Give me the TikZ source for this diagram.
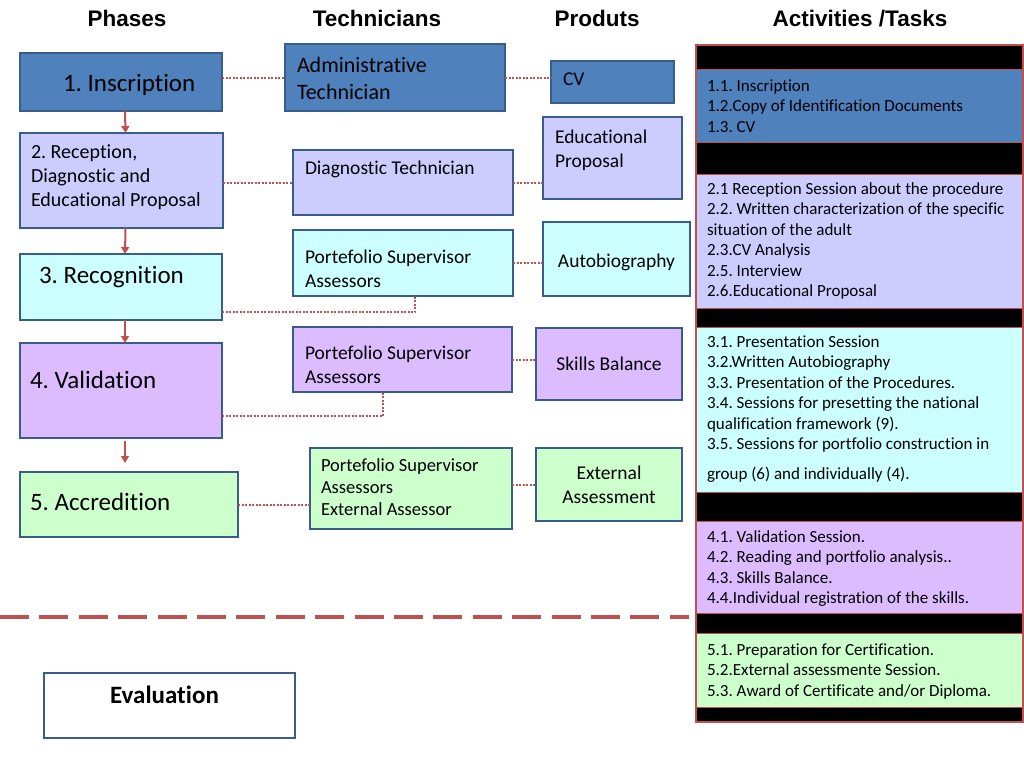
\documentclass[tikz,border=0pt]{standalone}
\usepackage{fontspec}
\setmainfont[Ligatures=NoCommon]{Carlito}
\newfontfamily\headfont{Liberation Sans}
\usepackage{xcolor}
\usepackage{tikz}
\usetikzlibrary{arrows.meta}
\usetikzlibrary{calc}

\definecolor{edgeblue}{HTML}{385D8A}
\definecolor{darkblue}{HTML}{4F81BD}
\definecolor{lavender}{HTML}{CCCCFF}
\definecolor{lightcyan}{HTML}{CCFFFF}
\definecolor{lilac}{HTML}{DDBBFF}
\definecolor{mint}{HTML}{CCFFCC}
\definecolor{linkred}{HTML}{C0504D}

\newcommand\setfs[2]{\fontsize{#1}{#2}\selectfont}
\frenchspacing

\begin{document}
\begin{tikzpicture}[
    x=1pt, y=-1pt,
    >={Triangle[length=7pt,width=8pt]},
    box/.style={rectangle, draw=edgeblue, line width=2.5pt, anchor=north west, outer sep=0pt, inner ysep=0pt, align=flush left},
    head/.style={anchor=base, font=\headfont\bfseries\setfs{22.5}{27}},
    task/.style={rectangle, draw=linkred, line width=1pt, anchor=north west, outer sep=0pt, inner ysep=0pt, inner xsep=11pt, text width=305pt, align=flush left, font=\setfs{17}{20.5}},
    link/.style={draw=linkred, line width=2pt, dash pattern=on 2pt off 1.5pt},
    flow/.style={->, draw=linkred, line width=2pt},
    cut/.style={draw=linkred, line width=4pt, dash pattern=on 29pt off 10.4pt}
]
\useasboundingbox (0,0) rectangle (1024,768);

% column titles
\node[head] (0_1) at (127,27) {Phases};
\node[head] (0_2) at (377,27) {Technicians};
\node[head] (0_3) at (597,27) {Produts};
\node[head] (0_4) at (860,27) {Activities /Tasks};

% phases
\node[box, fill=darkblue, inner xsep=10pt, text width=182pt, text height=38pt, text depth=20pt, font=\setfs{25}{30}] (1_1) at (20,53) {\hspace*{33pt}1. Inscription};
\node[box, fill=lavender, inner xsep=11pt, text width=181pt, text height=25pt, text depth=70pt, font=\setfs{20}{24}] (2_1) at (20,133) {2. Reception,\\Diagnostic and\\Educational Proposal};
\node[box, fill=lightcyan, inner xsep=19pt, text width=164pt, text height=29pt, text depth=37pt, font=\setfs{25}{30}] (3_1) at (20,254) {3. Recognition};
\node[box, fill=lilac, inner xsep=10pt, text width=182pt, text height=45pt, text depth=50pt, font=\setfs{25}{30}] (4_1) at (20,343) {4. Validation};
\node[box, fill=mint, inner xsep=10pt, text width=198pt, text height=38pt, text depth=27pt, font=\setfs{25}{30}] (5_1) at (20,472) {5. Accredition};

% technicians
\node[box, fill=darkblue, inner xsep=12pt, text width=196pt, text height=28pt, text depth=39pt, font=\setfs{22}{27}] (1_2) at (285,44) {Administrative\\Technician};
\node[box, fill=lavender, inner xsep=12pt, text width=196pt, text height=24pt, text depth=41pt, font=\setfs{19.5}{24}] (2_2) at (293,150) {Diagnostic Technician};
\node[box, fill=lightcyan, inner xsep=12pt, text width=196pt, text height=33pt, text depth=33pt, font=\setfs{19.5}{24}] (3_2) at (293,230) {Portefolio Supervisor\\Assessors};
\node[box, fill=lilac, inner xsep=12pt, text width=195pt, text height=32pt, text depth=33pt, font=\setfs{19.5}{24}] (4_2) at (293,327) {Portefolio Supervisor\\Assessors};
\node[box, fill=mint, inner xsep=11pt, text width=180pt, text height=23pt, text depth=58pt, font=\setfs{18.5}{22}] (5_2) at (310,448) {Portefolio Supervisor\\Assessors\\External Assessor};

% products
\node[box, fill=darkblue, inner xsep=12pt, text width=99pt, text height=24pt, text depth=18pt, font=\setfs{19.5}{24}] (1_3) at (551,61) {CV};
\node[box, fill=lavender, inner xsep=12pt, text width=115pt, text height=26pt, text depth=56pt, font=\setfs{19.5}{24}] (2_3) at (543,117) {Educational\\Proposal};
\node[box, fill=lightcyan, align=flush center, inner xsep=6pt, text width=135pt, text height=45pt, text depth=29pt, font=\setfs{19.5}{24}] (3_3) at (543,222) {Autobiography};
\node[box, fill=lilac, align=flush center, inner xsep=6pt, text width=134pt, text height=42pt, text depth=30pt, font=\setfs{19.5}{24}] (4_3) at (536,328) {Skills Balance};
\node[box, fill=mint, align=flush center, inner xsep=6pt, text width=134pt, text height=31pt, text depth=42pt, font=\setfs{19.5}{24}] (5_3) at (536,448) {External\\Assessment};

% evaluation
\node[box, fill=white, align=flush center, inner xsep=5pt, text width=241pt, text height=30pt, text depth=35pt, font=\bfseries\setfs{25}{30}] (6_1) at (44,673) {\hspace*{-10pt}Evaluation};

% activities
\node[rectangle, fill=black, anchor=north west, outer sep=0pt, inner sep=0pt, minimum width=327pt, minimum height=677pt] (frame) at (696,45) {};
\node[task, fill=darkblue, text height=22pt, text depth=51pt] (1_4) at (696,69) {1.1. Inscription\\1.2.Copy of Identification Documents\\1.3. CV};
\node[task, fill=lavender, text height=20pt, text depth=114pt] (2_4) at (696,174) {2.1 Reception Session about the procedure\\2.2. Written characterization of the specific\\situation of the adult\\2.3.CV Analysis\\2.5. Interview\\2.6.Educational Proposal};
\node[task, fill=lightcyan, text height=20pt, text depth=145pt] (3_4) at (696,327) {3.1. Presentation Session\\3.2.Written Autobiography\\3.3. Presentation of the Procedures.\\3.4. Sessions for presetting the national\\qualification framework (9).\\3.5. Sessions for portfolio construction in\\[9.5pt]group (6) and individually (4).};
\node[task, fill=lilac, text height=21pt, text depth=71pt] (4_4) at (696,521) {4.1. Validation Session.\\4.2. Reading and portfolio analysis..\\4.3. Skills Balance.\\4.4.Individual registration of the skills.};
\node[task, fill=mint, text height=22pt, text depth=52pt] (5_4) at (696,633) {5.1. Preparation for Certification.\\5.2.External assessmente Session.\\5.3. Award of Certificate and/or Diploma.};
\draw[linkred, line width=2pt] (frame.north west) rectangle (frame.south east);

% phase flow
\draw[flow] ([xshift=4pt]1_1.south) -- ([xshift=4pt]2_1.north);
\draw[flow] ([xshift=4pt]2_1.south) -- ([xshift=4pt]3_1.north);
\draw[flow] ([xshift=4pt]3_1.south) -- ([xshift=4pt]4_1.north);
\draw[flow, shorten <=3pt, shorten >=9pt] ([xshift=4pt]4_1.south) -- ([xshift=4pt]4_1.south |- 5_1.north);

% dotted links
\draw[link] (1_2.west -| 1_1.east) -- (1_2.west);
\draw[link] (1_2.east) -- (1_2.east -| 1_3.west);
\draw[link] (2_1.east |- 2_2.west) -- (2_2.west);
\draw[link] (2_2.east) -- (2_2.east -| 2_3.west);
\draw[link] ([yshift=8pt]3_1.south east) -| ([xshift=12pt]3_2.south);
\draw[link] (3_2.east) -- (3_2.east -| 3_3.west);
\draw[link] ([yshift=22pt]4_1.south east) -| ([xshift=-20pt]4_2.south);
\draw[link] (4_2.east) -- (4_2.east -| 4_3.west);
\draw[link] (5_1.east) -- (5_1.east -| 5_2.west);
\draw[link] (5_3.west -| 5_2.east) -- (5_3.west);

% separator
\coordinate (cut) at (0,617);
\draw[cut, shorten >=7pt] (cut) -- (cut -| frame.west);
\end{tikzpicture}
\end{document}
